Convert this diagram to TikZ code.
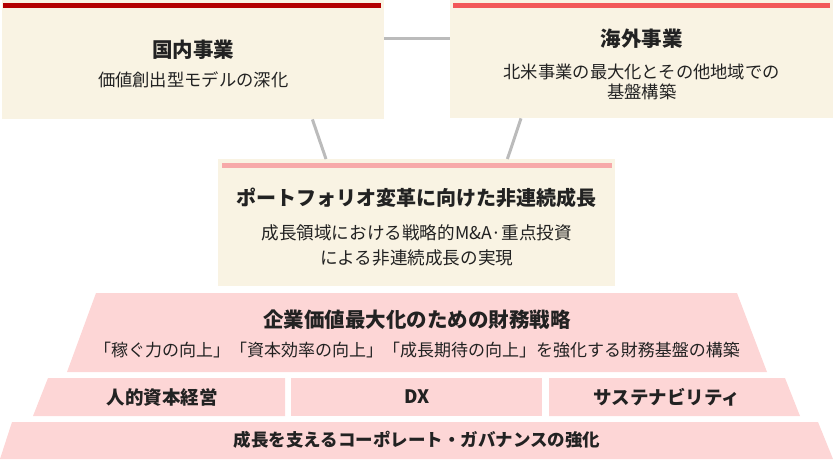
\documentclass[tikz,border=0pt]{standalone}
\usepackage{fontspec}
\setmainfont{Noto Sans CJK JP}

\definecolor{cream}{HTML}{F9F3E3}
\definecolor{darkred}{HTML}{B30000}
\definecolor{coral}{HTML}{F25858}
\definecolor{lightpink}{HTML}{F7A9A9}
\definecolor{layerpink}{HTML}{FDD6D6}
\definecolor{linkgray}{HTML}{BBBBBB}
\definecolor{ink}{HTML}{222222}

\tikzset{
	panel/.style={draw=none, fill=cream, inner sep=0pt, anchor=north west},
	link/.style={draw=linkgray, line width=3pt},
	ttl/.style={font=\fontsize{20.5}{24}\selectfont\bfseries, text=ink, inner sep=0pt},
	sub/.style={font=\fontsize{17.3}{20.5}\selectfont, text=ink, align=center, inner sep=0pt},
	layer/.style={fill=layerpink},
	tier/.style={font=\fontsize{18.5}{22}\selectfont\bfseries, text=ink, inner sep=0pt}
}

\begin{document}
\begin{tikzpicture}[x=1pt, y=-1pt]
	\useasboundingbox (0,0) rectangle (833,459);

	% Geschaeftsfelder oben
	\node[panel, minimum width=382pt, minimum height=119pt] (dom) at (2,0) {};
	\fill[darkred] ([shift={(1pt,-3pt)}]dom.north west) rectangle
	([shift={(-3pt,-8pt)}]dom.north east);
	\node[ttl] (domtitle) at ([yshift=-50pt]dom.north) {国内事業};
	\node[sub] (domtext) at ([yshift=-80pt]dom.north) {価値創出型モデルの深化};

	\node[panel, minimum width=383pt, minimum height=118pt] (ovs) at (450,0) {};
	\fill[coral] ([shift={(3pt,-3pt)}]ovs.north west) rectangle
	([shift={(-3pt,-8pt)}]ovs.north east);
	\node[ttl] (ovstitle) at ([yshift=-39pt]ovs.north) {海外事業};
	\node[sub] (ovstext) at ([yshift=-82pt]ovs.north)
	{北米事業の最大化とその他地域での\\基盤構築};

	% Mitte
	\node[panel, minimum width=397pt, minimum height=127pt] (mid) at (218,159) {};
	\fill[lightpink] ([shift={(4pt,-4pt)}]mid.north west) rectangle
	([shift={(-3pt,-9pt)}]mid.north east);
	\node[ttl, font=\fontsize{20}{24}\selectfont\bfseries] (midtitle) at
	([yshift=-39pt]mid.north) {ポートフォリオ変革に向けた非連続成長};
	\node[sub, font=\fontsize{17.6}{25}\selectfont] (midtext) at
	([yshift=-86.5pt]mid.north)
	{成長領域における戦略的M\&A·重点投資\\による非連続成長の実現};

	% Verbindungen
	\draw[link] ([yshift=-38pt]dom.north east) -- ([yshift=-38pt]ovs.north west);
	\draw[link] ([xshift=-72pt]dom.south east) -- ([xshift=108pt]mid.north west);
	\draw[link] ([xshift=71pt]ovs.south west) -- ([xshift=-108pt]mid.north east);

	% Fundament
	\fill[layer] (96,293) -- (737,293) -- (767,372) -- (67,372) -- cycle;
	\node[ttl] (fintitle) at (417,320) {企業価値最大化のための財務戦略};
	\node[sub, font=\fontsize{17}{21}\selectfont] (fintext) at (417,350)
	{「稼ぐ力の向上」「資本効率の向上」「成長期待の向上」を強化する財務基盤の構築};

	\fill[layer] (48,378) -- (285,378) -- (285,416) -- (33,416) -- cycle;
	\fill[layer] (291,378) rectangle (542,416);
	\fill[layer] (549,378) -- (785,378) -- (800,416) -- (549,416) -- cycle;
	\node[tier] (hc) at (162,397) {人的資本経営};
	\node[tier] (dx) at (417,397) {DX};
	\node[tier] (sus) at (667,397) {サステナビリティ};

	\fill[layer] (12,422) -- (818,422) -- (833,459) -- (0,459) -- cycle;
	\node[tier, font=\fontsize{17.5}{21}\selectfont\bfseries] (gov) at (417,440)
	{成長を支えるコーポレート・ガバナンスの強化};
\end{tikzpicture}
\end{document}
